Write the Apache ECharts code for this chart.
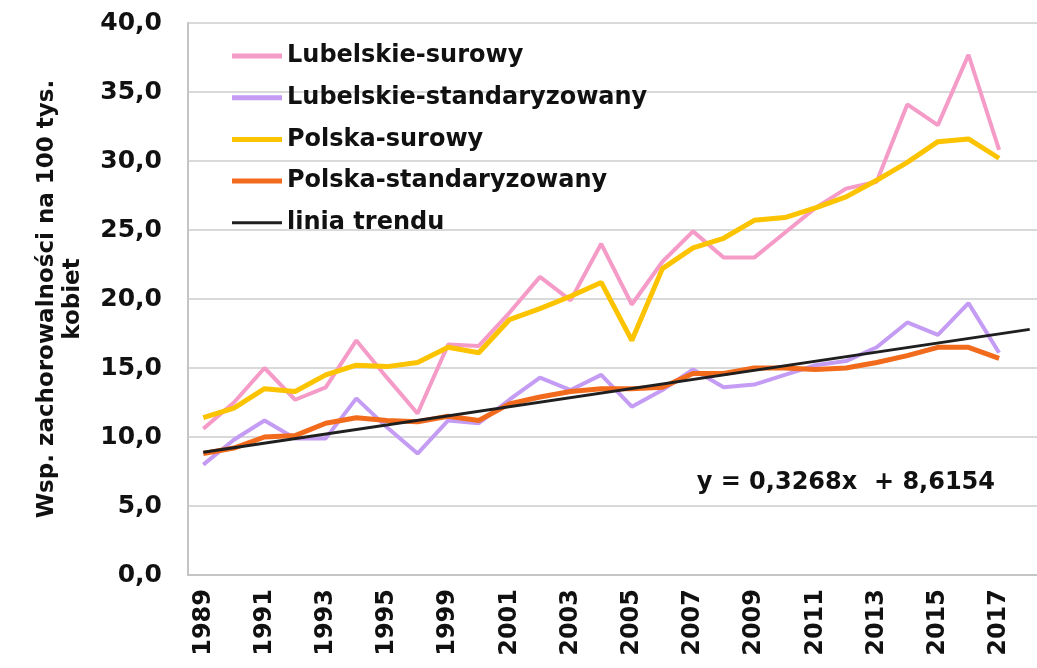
<!DOCTYPE html>
<html>
<head>
<meta charset="utf-8">
<script src="https://cdn.jsdelivr.net/npm/echarts@6/dist/echarts.min.js"></script>
<style>
  html, body { margin: 0; padding: 0; background: #fff; }
  #chart { width: 1037px; height: 668px; }
</style>
</head>
<body>
<div id="chart"></div>
<script>
// years on the axis (1997-1998 absent in the source), last slot is the trend forecast
const years = ['1989', '1990', '1991', '1992', '1993', '1994', '1995', '1996',
  '1999', '2000', '2001', '2002', '2003', '2004', '2005', '2006', '2007', '2008',
  '2009', '2010', '2011', '2012', '2013', '2014', '2015', '2016', '2017', '2018']

const lubelskieSurowy = [10.6, 12.5, 15.0, 12.7, 13.6, 17.0, 14.3, 11.7, 16.7, 16.6,
  19.0, 21.6, 19.9, 24.0, 19.6, 22.7, 24.9, 23.0, 23.0, 24.8,
  26.6, 28.0, 28.5, 34.1, 32.6, 37.7, 30.8]
const lubelskieStand = [8.0, 9.8, 11.2, 9.9, 9.9, 12.8, 10.7, 8.8, 11.2, 11.0,
  12.7, 14.3, 13.4, 14.5, 12.2, 13.4, 14.9, 13.6, 13.8, 14.5,
  15.2, 15.5, 16.5, 18.3, 17.4, 19.7, 16.1]
const polskaSurowy = [11.4, 12.1, 13.5, 13.3, 14.5, 15.2, 15.1, 15.4, 16.5, 16.1,
  18.5, 19.3, 20.2, 21.2, 17.0, 22.2, 23.7, 24.4, 25.7, 25.9,
  26.6, 27.4, 28.6, 29.9, 31.4, 31.6, 30.2]
const polskaStand = [8.8, 9.2, 10.0, 10.1, 11.0, 11.4, 11.2, 11.1, 11.5, 11.2,
  12.4, 12.9, 13.3, 13.5, 13.5, 13.6, 14.6, 14.6, 15.0, 15.0,
  14.9, 15.0, 15.4, 15.9, 16.5, 16.5, 15.7]
// trend line: start and end
const trendStart = 8.9
const trendEnd = 17.8
const trend = years.map((y, i) => i === 0 ? trendStart : (i === years.length - 1 ? trendEnd : null))

const fontFamily = '"DejaVu Sans", Verdana, sans-serif'
const thickIcon = 'path://M0,0h50v5h-50z'
const thinIcon = 'path://M0,0h50v3h-50z'

const chart = echarts.init(document.getElementById('chart'))

chart.setOption({
  animation: false,
  grid: {
    left: 188,
    top: 23,
    right: -8,
    bottom: 93,
    outerBoundsMode: 'none'
  },
  legend: {
    orient: 'vertical',
    left: 232,
    top: 44,
    padding: 0,
    itemWidth: 50,
    itemHeight: 5,
    itemGap: 17.7,
    symbolKeepAspect: true,
    textStyle: {
      fontFamily: fontFamily,
      fontWeight: 'bold',
      fontSize: 24,
      lineHeight: 24,
      color: '#111'
    },
    data: [
      { name: 'Lubelskie-surowy', icon: thickIcon },
      { name: 'Lubelskie-standaryzowany', icon: thickIcon },
      { name: 'Polska-surowy', icon: thickIcon },
      { name: 'Polska-standaryzowany', icon: thickIcon },
      { name: 'linia trendu', icon: thinIcon }
    ]
  },
  xAxis: {
    type: 'category',
    data: years,
    boundaryGap: true,
    axisLine: { lineStyle: { color: '#c4c4c4', width: 2 } },
    axisTick: { show: false },
    axisLabel: {
      interval: 1,
      rotate: 90,
      margin: 14,
      fontFamily: fontFamily,
      fontWeight: 'bold',
      fontSize: 24,
      color: '#111'
    }
  },
  yAxis: {
    type: 'value',
    min: 0,
    max: 40,
    interval: 5,
    name: 'Wsp. zachorowalności na 100 tys.\nkobiet',
    nameLocation: 'middle',
    nameGap: 102,
    nameRotate: 90,
    nameTextStyle: {
      fontFamily: fontFamily,
      fontWeight: 'bold',
      fontSize: 23,
      lineHeight: 26,
      color: '#111'
    },
    axisLine: { show: true, lineStyle: { color: '#c4c4c4', width: 2 } },
    axisTick: { show: false },
    axisLabel: {
      margin: 26,
      fontFamily: fontFamily,
      fontWeight: 'bold',
      fontSize: 25,
      color: '#111',
      formatter: v => v.toFixed(1).replace('.', ',')
    },
    splitLine: { lineStyle: { color: '#d9d9d9', width: 2 } }
  },
  graphic: [{
    type: 'text',
    right: 42,
    top: 471,
    style: {
      text: 'y = 0,3268x  + 8,6154',
      fontFamily: fontFamily,
      fontWeight: 'bold',
      fontSize: 24,
      fill: '#111'
    }
  }],
  series: [
    {
      name: 'Lubelskie-surowy',
      type: 'line',
      data: lubelskieSurowy,
      symbol: 'none',
      lineStyle: { color: '#f59bc8', width: 4 },
      itemStyle: { color: '#f59bc8' }
    },
    {
      name: 'Lubelskie-standaryzowany',
      type: 'line',
      data: lubelskieStand,
      symbol: 'none',
      lineStyle: { color: '#c49cf4', width: 4 },
      itemStyle: { color: '#c49cf4' }
    },
    {
      name: 'Polska-surowy',
      type: 'line',
      data: polskaSurowy,
      symbol: 'none',
      lineStyle: { color: '#fbc300', width: 5 },
      itemStyle: { color: '#fbc300' }
    },
    {
      name: 'Polska-standaryzowany',
      type: 'line',
      data: polskaStand,
      symbol: 'none',
      lineStyle: { color: '#f26b1d', width: 5 },
      itemStyle: { color: '#f26b1d' }
    },
    {
      name: 'linia trendu',
      type: 'line',
      data: trend,
      connectNulls: true,
      symbol: 'none',
      lineStyle: { color: '#1f1f1f', width: 3 },
      itemStyle: { color: '#1f1f1f' }
    }
  ]
})
</script>
</body>
</html>
